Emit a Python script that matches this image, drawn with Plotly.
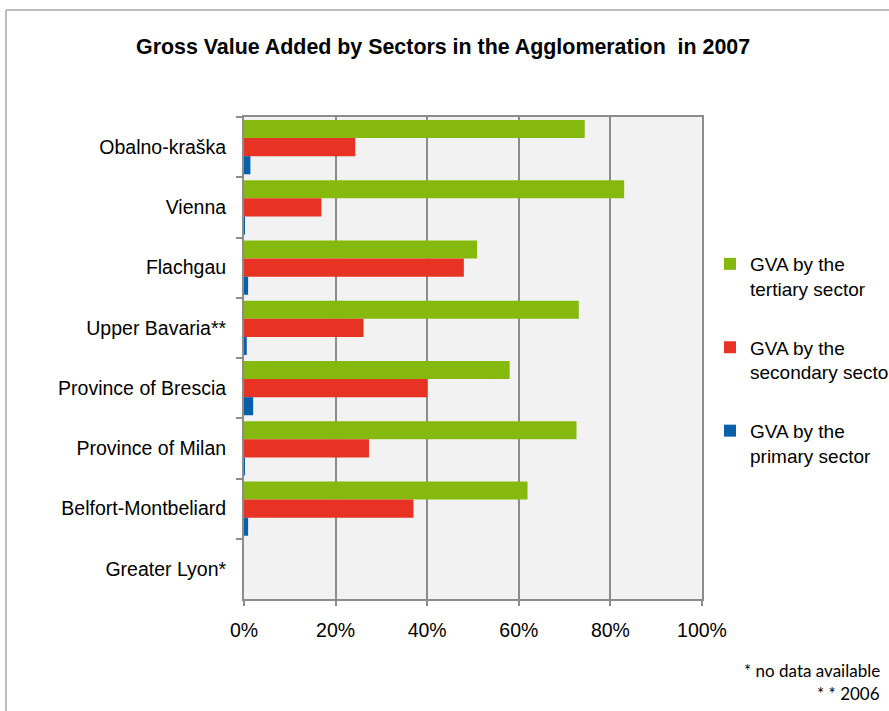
import plotly.graph_objects as go

categories = ["Obalno-kraška", "Vienna", "Flachgau", "Upper Bavaria**",
              "Province of Brescia", "Province of Milan", "Belfort-Montbeliard",
              "Greater Lyon*"]
tertiary = [74.4, 83.0, 50.9, 73.1, 58.0, 72.6, 61.9, None]
secondary = [24.3, 16.9, 48.0, 26.1, 40.0, 27.3, 37.0, None]
primary = [1.4, 0.2, 0.9, 0.6, 2.0, 0.2, 0.9, None]
series_names = ["GVA by the<br>tertiary sector", "GVA by the<br>secondary sector",
                "GVA by the<br>primary sector"]
x_ticks = [0, 20, 40, 60, 80, 100]
x_tick_labels = ["0%", "20%", "40%", "60%", "80%", "100%"]

colors = ["#86B90E", "#E83223", "#0860A8"]
FONT = "Liberation Sans, Arial, sans-serif"

W, H = 889, 711
ML, MR, MT, MB = 244, 889 - 702, 117, 711 - 599
PW, PH = W - ML - MR, H - MT - MB

def px_x(p):
    return (p - ML) / PW

def px_y(p):
    return (H - MB - p) / PH

fig = go.Figure()
for i, (name, vals) in enumerate(zip(series_names, [tertiary, secondary, primary])):
    fig.add_trace(go.Bar(
        y=categories, x=vals, name=name, orientation="h",
        marker=dict(color=colors[i], line=dict(width=0)),
        legendgroup=f"g{i}",
    ))

fig.update_layout(
    width=W, height=H,
    margin=dict(l=ML, r=MR, t=MT, b=MB, autoexpand=False),
    paper_bgcolor="white", plot_bgcolor="#F2F2F2",
    barmode="group", bargap=0.1, bargroupgap=0,
    font=dict(family=FONT, size=19.5, color="black"),
    title=dict(text="<b>Gross Value Added by Sectors in the Agglomeration  in 2007</b>",
               x=136 / W, xref="container", xanchor="left",
               y=1 - 47 / H, yref="container", yanchor="middle",
               font=dict(family=FONT, size=21.4, color="black")),
    legend=dict(x=px_x(710), y=px_y(245), xanchor="left", yanchor="top",
                xref="paper", yref="paper", valign="top",
                traceorder="grouped", tracegroupgap=31,
                font=dict(family=FONT, size=19, color="black"),
                bgcolor="rgba(0,0,0,0)"),
    xaxis=dict(range=[0, 100], tickvals=x_ticks, ticktext=x_tick_labels,
               showgrid=True, gridcolor="#8C8C8C", gridwidth=1.5,
               showline=True, linecolor="#8C8C8C", linewidth=2, mirror=True,
               ticks="outside", ticklen=5, tickcolor="#8C8C8C", tickwidth=1.5,
               ticklabelstandoff=8,
               zeroline=False, fixedrange=True,
               tickfont=dict(family=FONT, size=19.5)),
    yaxis=dict(autorange="reversed", type="category",
               showgrid=False, showline=True, linecolor="#8C8C8C", linewidth=2,
               mirror=True, ticks="outside", ticklen=6, tickcolor="#8C8C8C",
               tickwidth=1.5, tickson="boundaries", ticklabelstandoff=12,
               fixedrange=True,
               tickfont=dict(family=FONT, size=19.5)),
    shapes=[
        dict(type="line", xref="paper", yref="paper",
             x0=px_x(6), x1=px_x(W + 5), y0=px_y(10), y1=px_y(10),
             line=dict(color="#A8A8A8", width=1.5)),
        dict(type="line", xref="paper", yref="paper",
             x0=px_x(6), x1=px_x(6), y0=px_y(10), y1=px_y(H + 5),
             line=dict(color="#A8A8A8", width=1.5)),
    ],
    annotations=[
        dict(text="* no data available", xref="paper", yref="paper",
             x=px_x(882), y=px_y(670), xanchor="right", yanchor="middle",
             showarrow=False, font=dict(family="Lato, Carlito, sans-serif", size=17, color="black")),
        dict(text="* * 2006", xref="paper", yref="paper",
             x=px_x(882), y=px_y(693), xanchor="right", yanchor="middle",
             showarrow=False, font=dict(family="Lato, Carlito, sans-serif", size=17, color="black")),
    ],
)

fig.write_html("out.html", config={"displayModeBar": False},
               post_script="document.body.style.margin='0';document.body.style.overflow='hidden';")
